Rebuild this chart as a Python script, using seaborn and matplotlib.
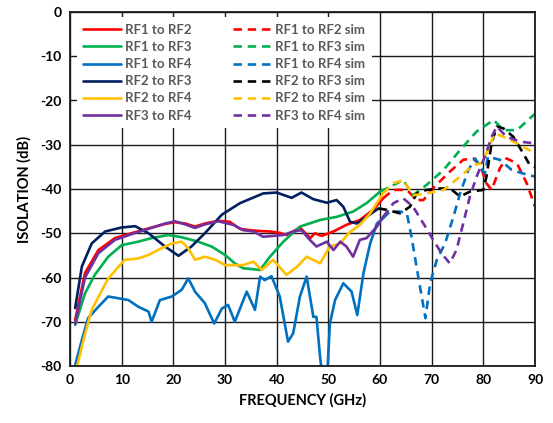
import numpy as np
import pandas as pd
import matplotlib
matplotlib.use("Agg")
import matplotlib.pyplot as plt
import seaborn as sns

# ---- data ----
rf12_f = [1, 2.9, 5.5, 8.7, 11.9, 15.2, 18.4, 20.3, 22.3, 24.2, 26.1, 28.7, 30.9, 32.9, 34.8, 36.8, 38.7, 40.6, 41.9, 43.3, 44.5, 46.5, 47.4, 48.7, 51, 53.5, 56.1, 58.7, 60.6]
rf12_db = [-69.6, -59, -53.8, -51.1, -50, -48.9, -47.9, -47.5, -47.8, -48.5, -47.8, -47.2, -47.4, -49, -49.3, -49.5, -49.6, -49.9, -50.4, -49.5, -48.7, -51.1, -50, -50.6, -49.6, -48.1, -47, -44.7, -42.1]
rf12s_f = [60.6, 62.6, 65.2, 67.1, 68.4, 70.3, 73.5, 76.1, 78, 79.4, 80.6, 81.6, 83.2, 84.5, 86.5, 88.4, 90]
rf12s_db = [-42.1, -40.2, -40.2, -42.5, -42.5, -39.8, -36.1, -33.4, -33.1, -34.6, -38.7, -40.2, -35.3, -33.1, -34.2, -38.7, -44]

rf13_f = [1, 2.9, 4.8, 7.4, 10, 13.2, 15.8, 19, 21.6, 24.8, 27.4, 30, 31.9, 33.5, 36.8, 38.7, 41.3, 44.5, 48.4, 51.6, 54.8, 57.4, 60]
rf13_db = [-70.7, -63.6, -59.4, -55.3, -52.7, -51.9, -51.1, -50.4, -50.9, -51.9, -53, -54.9, -56.8, -57.9, -58.3, -55.3, -51.9, -48.5, -47, -46.3, -45.1, -43.2, -40.6]
rf13s_f = [60, 62.6, 64.5, 66.4, 69, 72.3, 75.5, 78.7, 82, 83.9, 86.5, 90]
rf13s_db = [-40.6, -39.1, -38, -41.4, -39.1, -35.7, -31.2, -27, -24.4, -26.7, -26.7, -23]

rf14_f = [1, 2.3, 3.5, 5.5, 7.4, 9.4, 11.3, 13.2, 15.2, 15.8, 17.4, 19.7, 21.6, 22.9, 24.2, 26.1, 27.9, 29.4, 30.6, 31.9, 34.2, 35.8, 36.8, 37.7, 39, 40.6, 42.2, 43.2, 44.5, 45.8, 47.1, 47.7, 48.4, 49, 49.7, 50.3, 51.3, 52.9, 54.5, 55.6, 56.8, 58.1, 59.4, 60.6]
rf14_db = [-79.8, -74.1, -69.2, -66.6, -64.3, -64.7, -65.1, -66.6, -67.7, -70, -65.1, -64.3, -62.8, -60.2, -63.2, -65.8, -70.4, -67, -66.2, -70, -63.2, -67.3, -59.8, -60.6, -59.7, -64.3, -74.5, -72.6, -64.3, -59.8, -68.9, -68.9, -77.9, -84, -84, -70.4, -65.1, -61.3, -63.2, -68.5, -59, -52.3, -47.8, -46.6]
rf14s_f = [60.6, 61.9, 63.9, 65.2, 66.1, 67.4, 68.8, 69.7, 71, 72.6, 74.2, 75.5, 77.1, 78.4, 80.3, 80.9, 83.2, 85.5, 87.7, 90]
rf14s_db = [-46.6, -45.1, -45.1, -45.5, -50.8, -59.8, -69.2, -61.3, -56, -52.3, -46.3, -41, -35.7, -33.1, -36.5, -32.7, -33.4, -35.7, -36.5, -37.2]

rf23_f = [1, 2.3, 4.2, 6.8, 10, 12.6, 15.2, 18.4, 21, 23.5, 26.1, 29.4, 32.9, 37.4, 40, 42.9, 44.8, 47.1, 49.7, 51.6, 52.9, 54.2, 55.5, 57.4, 59.7]
rf23_db = [-66.9, -57.5, -52.3, -49.6, -48.7, -48.4, -50, -53, -55.1, -53, -50, -45.8, -43.2, -41, -40.8, -42, -40.8, -42.3, -43.1, -42.5, -44, -47.4, -47.8, -46.3, -44.4]
rf23s_f = [59.7, 61.3, 63.9, 65.8, 67.1, 69, 71.6, 73.5, 75.5, 77.4, 80, 80.6, 81.6, 82.6, 83.9, 85.8, 87.7, 89, 90]
rf23s_db = [-44.4, -44.7, -45.5, -44, -41, -40.2, -39.9, -39.8, -41.7, -40.6, -40.2, -37.2, -29.7, -25.9, -26.3, -28.2, -31.9, -34.6, -35]

rf24_f = [1.2, 2.6, 4.2, 7.4, 10.6, 13.2, 15.2, 17.7, 19.7, 21.6, 22.9, 24.2, 26.1, 28.1, 30, 31.6, 33.5, 35.5, 37.1, 39.3, 41.9, 43.9, 45.8, 48.4, 50.3, 52.3, 53.9, 56.1, 58.1, 60.6]
rf24_db = [-81, -74.1, -67.3, -60.2, -56, -55.7, -54.9, -53.4, -52.3, -51.9, -53.4, -56, -55.3, -56, -57.2, -57.2, -57.2, -56.4, -58.3, -56, -59.4, -57.6, -55.3, -56.8, -53, -52.3, -50, -48.1, -45.5, -41]
rf24s_f = [60.6, 62.6, 64.5, 66.4, 69, 72.3, 75.5, 78, 79.6, 80.9, 82.2, 83.9, 86.5, 90]
rf24s_db = [-41, -38.7, -38, -41.4, -41, -40.2, -37.2, -34.6, -34.2, -31.2, -27.4, -28.2, -29.7, -31.9]

rf34_f = [1, 2.9, 5.5, 8.7, 11.9, 15.2, 18.4, 20.3, 22.3, 24.2, 26.1, 28.7, 31.6, 33.5, 35.5, 37.4, 39.3, 41.3, 43.2, 44.8, 46.1, 47.7, 49.7, 51, 52.3, 53.5, 54.8, 56.1, 57.4, 59.4, 60.6]
rf34_db = [-70.5, -60, -54.5, -51.5, -50.2, -49, -47.8, -47.3, -48, -48.8, -48, -47.3, -48.1, -49.3, -49.6, -50.8, -50.6, -50.4, -49.6, -49.3, -51.1, -53, -51.9, -53.8, -51.9, -53, -55.3, -51.5, -51.1, -48.5, -46.3]
rf34s_f = [60.6, 62.6, 64.5, 66.4, 68.4, 70.3, 71.9, 73.5, 74.8, 76.1, 77.4, 78.7, 80.3, 81.6, 82.6, 84.5, 87.1, 90]
rf34s_db = [-46.3, -43.2, -42.1, -44, -47.8, -51.5, -54.5, -56.8, -53.8, -47.8, -41.7, -37.2, -32.7, -28.2, -25.9, -28.2, -29.3, -29.7]

names = ["RF1 to RF2", "RF1 to RF3", "RF1 to RF4", "RF2 to RF3", "RF2 to RF4", "RF3 to RF4"]
meas = [(rf12_f, rf12_db), (rf13_f, rf13_db), (rf14_f, rf14_db), (rf23_f, rf23_db), (rf24_f, rf24_db), (rf34_f, rf34_db)]
sims = [(rf12s_f, rf12s_db), (rf13s_f, rf13s_db), (rf14s_f, rf14s_db), (rf23s_f, rf23s_db), (rf24s_f, rf24s_db), (rf34s_f, rf34s_db)]
meas_colors = ["#FF0000", "#00B050", "#0070C0", "#002060", "#FFC000", "#7030A0"]
sim_colors = ["#FF0000", "#00B050", "#0070C0", "#000000", "#FFC000", "#7030A0"]

x_ticks = [0, 10, 20, 30, 40, 50, 60, 70, 80, 90]
y_ticks = [0, -10, -20, -30, -40, -50, -60, -70, -80]

# ---- plot ----
sns.set_theme(style="white")
plt.rcParams['font.family'] = ['Lato', 'DejaVu Sans']
plt.rcParams['font.weight'] = 'bold'
plt.rcParams['axes.unicode_minus'] = False

fig = plt.figure(figsize=(5.53, 4.23), dpi=100)
ax = fig.add_axes([70 / 553, 1 - 366 / 423, 465 / 553, 354 / 423])

lw = 1.9
for name, (f, d), c in zip(names, meas, meas_colors):
    df = pd.DataFrame({"f": f, "db": d})
    sns.lineplot(data=df, x="f", y="db", ax=ax, color=c, lw=lw, label=name,
                 estimator=None, sort=False)
for name, (f, d), c in zip(names, sims, sim_colors):
    df = pd.DataFrame({"f": f, "db": d})
    sns.lineplot(data=df, x="f", y="db", ax=ax, color=c, lw=lw, label=name + " sim",
                 estimator=None, sort=False, linestyle=(0, (3.2, 2.2)))

ax.set_xlim(0, 90)
ax.set_ylim(-80, 0)
ax.set_xticks(x_ticks)
ax.set_yticks(y_ticks)
ax.grid(True, color="#1a1a1a", lw=1.0)
ax.set_axisbelow(True)
for s in ax.spines.values():
    s.set_color("#1a1a1a")
    s.set_linewidth(1.3)
ax.tick_params(axis="both", length=0, labelsize=10, colors="black", pad=6)
for lab in ax.get_xticklabels() + ax.get_yticklabels():
    lab.set_fontweight("bold")
ax.set_xlabel("FREQUENCY (GHz)", fontsize=10.5, fontweight="bold", color="black", labelpad=5)
ax.set_ylabel("ISOLATION (dB)", fontsize=10.5, fontweight="bold", color="black", labelpad=6)

fs = 9.5
leg = ax.legend(loc="upper left", bbox_to_anchor=(0.014, 0.985), ncol=2, frameon=True,
                handlelength=2.9, handletextpad=0.3, columnspacing=3.1,
                labelspacing=0.39, borderpad=0.5, borderaxespad=0.0,
                prop={"weight": "bold", "size": fs})
leg.get_frame().set_facecolor("white")
leg.get_frame().set_edgecolor("none")
leg.get_frame().set_alpha(1)
leg.get_frame().set_boxstyle("square", pad=0.0)
for t in leg.get_texts():
    t.set_color("#595959")

fig.savefig("out.png", dpi=100, facecolor="white")
